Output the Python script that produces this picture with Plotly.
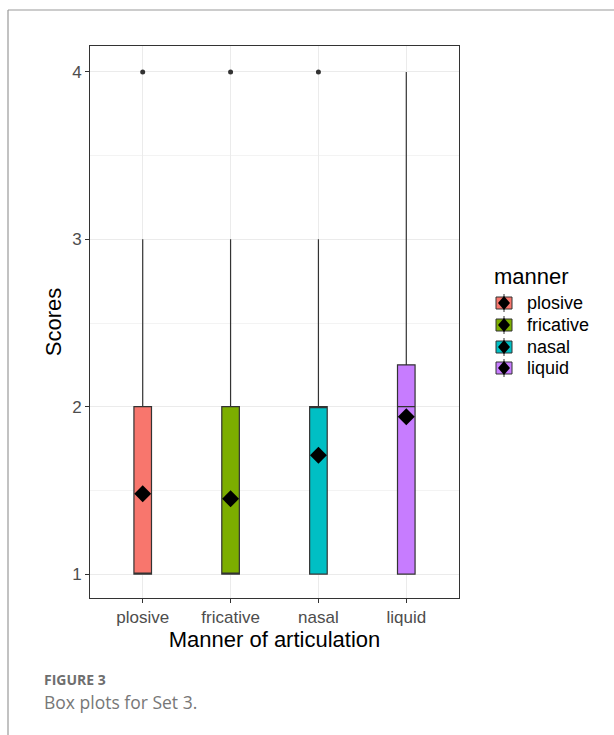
import plotly.graph_objects as go

categories = ["plosive", "fricative", "nasal", "liquid"]
colors = ["#F8766D", "#7CAE00", "#00BFC4", "#C77CFF"]
q1 = [1, 1, 1, 1]
median = [1, 1, 2, 2]
q3 = [2, 2, 2, 2.25]
lower = [1, 1, 1, 1]
upper = [3, 3, 3, 4]
means = [1.48, 1.45, 1.71, 1.94]
outliers = [[4], [4], [4], []]

fig = go.Figure()
xs = [1, 2, 3, 4]
for i, c in enumerate(categories):
    fig.add_trace(go.Box(
        x=[xs[i]], q1=[q1[i]], median=[median[i]], q3=[q3[i]],
        lowerfence=[lower[i]], upperfence=[upper[i]],
        name=c, fillcolor=colors[i], line=dict(color="#333333", width=1.2),
        width=0.2, whiskerwidth=0, boxpoints=False, showlegend=False,
    ))
for i, c in enumerate(categories):
    if outliers[i]:
        fig.add_trace(go.Scatter(
            x=[xs[i]] * len(outliers[i]), y=outliers[i], mode="markers",
            marker=dict(color="#333333", size=5), showlegend=False, hoverinfo="skip"))
fig.add_trace(go.Scatter(
    x=xs, y=means, mode="markers",
    marker=dict(symbol="diamond", color="black", size=13), showlegend=False))

W, H = 614, 735
L, R, T, B = 90, 459, 46, 598
pw, ph = R - L, B - T
def px(x): return (x - L) / pw
def py(y): return (B - y) / ph

fig.update_layout(
    width=W, height=H,
    margin=dict(l=L, r=W - R, t=T, b=H - B),
    paper_bgcolor="white", plot_bgcolor="white",
    font=dict(family="Liberation Sans, Arial, sans-serif", color="#000000"),
    showlegend=False,
    xaxis=dict(
        range=[0.4, 4.6], tickvals=xs, ticktext=categories,
        showgrid=True, gridcolor="#EBEBEB", gridwidth=1.2,
        showline=True, linecolor="#333333", linewidth=1, mirror=True,
        ticks="outside", ticklen=4, tickcolor="#333333",
        tickfont=dict(size=17, color="#4D4D4D"),
        title=dict(text="Manner of articulation", font=dict(size=22, color="black"), standoff=2),
        zeroline=False,
    ),
    yaxis=dict(
        range=[0.857, 4.155], tickvals=[1, 2, 3, 4],
        showgrid=True, gridcolor="#EBEBEB", gridwidth=1.2,
        minor=dict(tickvals=[1.5, 2.5, 3.5], showgrid=True, gridcolor="#F3F3F3", gridwidth=0.8),
        showline=True, linecolor="#333333", linewidth=1, mirror=True,
        ticks="outside", ticklen=4, tickcolor="#333333",
        tickfont=dict(size=17, color="#4D4D4D"),
        title=dict(text="Scores", font=dict(size=22, color="black"), standoff=4),
        zeroline=False,
    ),
)

# legend drawn as keys + text (ggplot style: box key with mean diamond)
fig.add_annotation(text="manner", xref="paper", yref="paper",
                   x=px(492), y=py(276), xanchor="left", yanchor="middle",
                   showarrow=False, font=dict(size=22, color="black"))
leg_y = [303, 325, 347, 368]
for i, c in enumerate(categories):
    yc = leg_y[i]
    fig.add_shape(type="line", xref="paper", yref="paper",
                  x0=px(504), x1=px(504), y0=py(yc - 9), y1=py(yc + 9),
                  line=dict(color="#333333", width=1))
    fig.add_shape(type="rect", xref="paper", yref="paper",
                  x0=px(496), x1=px(512), y0=py(yc - 6), y1=py(yc + 6),
                  fillcolor=colors[i], line=dict(color="#333333", width=1))
    fig.add_shape(type="path", xref="paper", yref="paper",
                  path=f"M {px(504)} {py(yc - 7)} L {px(510)} {py(yc)} L {px(504)} {py(yc + 7)} L {px(498)} {py(yc)} Z",
                  fillcolor="black", line=dict(color="black", width=0))
    fig.add_annotation(text=c, xref="paper", yref="paper",
                       x=px(525), y=py(yc), xanchor="left", yanchor="middle",
                       showarrow=False, font=dict(size=18, color="black"))

# outer frame
fig.add_shape(type="line", xref="paper", yref="paper",
              x0=px(8), x1=px(614), y0=py(10), y1=py(10),
              line=dict(color="#BBBBBB", width=1.5))
fig.add_shape(type="line", xref="paper", yref="paper",
              x0=px(8), x1=px(8), y0=py(10), y1=py(735),
              line=dict(color="#999999", width=1.2))

fig.add_annotation(text="<b>FIGURE 3</b>", xref="paper", yref="paper",
                   x=px(42), y=py(679), xanchor="left", yanchor="middle",
                   showarrow=False, font=dict(size=14, color="#6E6E6E", family="Open Sans, sans-serif"))
fig.add_annotation(text="Box plots for Set 3.", xref="paper", yref="paper",
                   x=px(42), y=py(702), xanchor="left", yanchor="middle",
                   showarrow=False, font=dict(size=17.5, color="#777777", family="Open Sans, sans-serif"))

fig.write_html("out.html")
